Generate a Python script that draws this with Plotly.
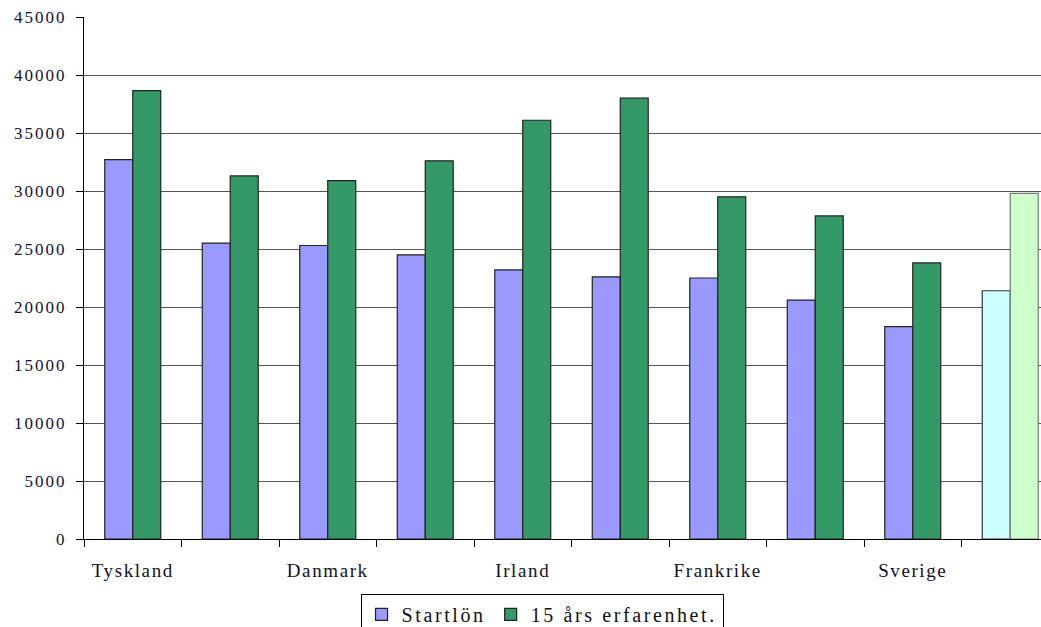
import plotly.graph_objects as go

# Tick labels (Excel skipped every other label)
categories = ["Tyskland", "", "Danmark", "", "Irland", "", "Frankrike", "", "Sverige", ""]
startlon = [32700, 25500, 25300, 24500, 23200, 22600, 22500, 20600, 18300, 21400]
erfarenhet = [38650, 31300, 30900, 32600, 36100, 38000, 29500, 27850, 23800, 29800]
y_ticks = [0, 5000, 10000, 15000, 20000, 25000, 30000, 35000, 40000, 45000]

purple = ["#9999FF"] * 9 + ["#CCFFFF"]
green = ["#339966"] * 9 + ["#CCFFCC"]
purple_line = ["#222222"] * 9 + ["#333333"]
green_line = ["#222222"] * 9 + ["#777777"]

FONT = "Liberation Serif"


def spaced(t, px):
    return f'<span style="letter-spacing:{px}px">{t}</span>' if t else ""


x = list(range(len(categories)))

fig = go.Figure()
fig.add_trace(go.Bar(
    x=x, y=startlon, name=spaced("Startlön", 2.6),
    marker=dict(color=purple, line=dict(color=purple_line, width=1.2)),
))
fig.add_trace(go.Bar(
    x=x, y=erfarenhet, name=spaced("15 års erfarenhet.", 2.6),
    marker=dict(color=green, line=dict(color=green_line, width=1.2)),
))

fig.update_layout(
    width=1041, height=627,
    margin=dict(l=84, r=0, t=17, b=88, autoexpand=False),
    paper_bgcolor="white", plot_bgcolor="white",
    barmode="group", bargap=0.426, bargroupgap=0,
    font=dict(family=FONT, color="#111122"),
    showlegend=True,
    legend=dict(
        orientation="h", x=0.4786, xanchor="center", y=-0.105, yanchor="top",
        bordercolor="black", borderwidth=1, bgcolor="white",
        font=dict(family=FONT, size=20, color="#111111"),
        traceorder="normal",
    ),
)

fig.update_xaxes(
    range=[-0.5, len(categories) - 0.5 - 18 / 97.5],
    tickmode="array", tickvals=x, ticktext=[spaced(c, 1.6) for c in categories],
    ticks="", showgrid=False, zeroline=False,
    showline=True, linecolor="black", linewidth=1,
    tickfont=dict(family=FONT, size=19, color="#111122"),
    ticklabelstandoff=14,
    minor=dict(tickmode="array", tickvals=[i - 0.5 for i in range(len(categories) + 1)],
               ticks="outside", ticklen=7, tickcolor="black", tickwidth=1, showgrid=False),
)

fig.update_yaxes(
    range=[0, 45000],
    tickmode="array", tickvals=y_ticks, ticktext=[spaced(str(v), 2) for v in y_ticks],
    ticks="outside", ticklen=7, tickcolor="black", tickwidth=1,
    showgrid=True, gridcolor="#555555", gridwidth=1.2,
    zeroline=False, showline=True, linecolor="black", linewidth=1,
    tickfont=dict(family=FONT, size=17, color="#111133"),
    ticklabelstandoff=6,
)

fig.write_html("out.html")
